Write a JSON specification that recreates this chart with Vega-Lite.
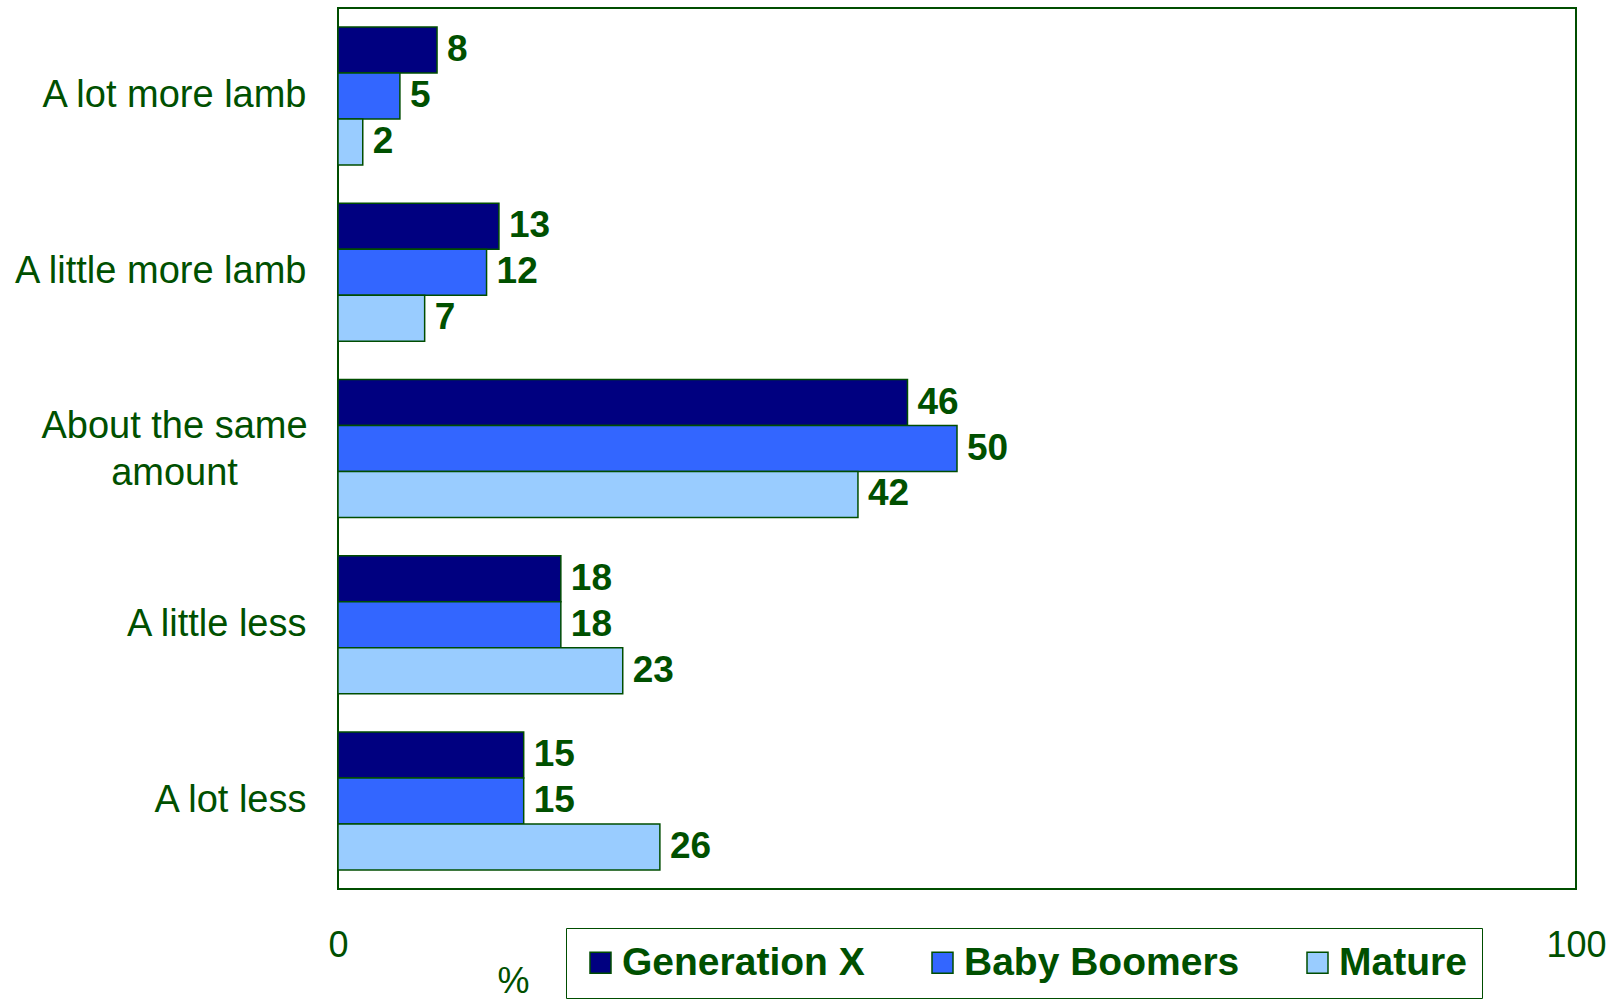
{
  "$schema": "https://vega.github.io/schema/vega-lite/v6.json",
  "width": 1238,
  "height": 881,
  "autosize": {"type": "none"},
  "padding": {"left": 338, "top": 8, "right": 38, "bottom": 113},
  "background": "white",
  "config": {
    "view": {"stroke": "#004d00", "strokeWidth": 2},
    "font": "Liberation Sans"
  },
  "data": {
    "values": [
      {"cat": "A lot more lamb", "series": "Generation X", "value": 8},
      {"cat": "A lot more lamb", "series": "Baby Boomers", "value": 5},
      {"cat": "A lot more lamb", "series": "Mature", "value": 2},
      {"cat": "A little more lamb", "series": "Generation X", "value": 13},
      {"cat": "A little more lamb", "series": "Baby Boomers", "value": 12},
      {"cat": "A little more lamb", "series": "Mature", "value": 7},
      {"cat": "About the same amount", "series": "Generation X", "value": 46},
      {"cat": "About the same amount", "series": "Baby Boomers", "value": 50},
      {"cat": "About the same amount", "series": "Mature", "value": 42},
      {"cat": "A little less", "series": "Generation X", "value": 18},
      {"cat": "A little less", "series": "Baby Boomers", "value": 18},
      {"cat": "A little less", "series": "Mature", "value": 23},
      {"cat": "A lot less", "series": "Generation X", "value": 15},
      {"cat": "A lot less", "series": "Baby Boomers", "value": 15},
      {"cat": "A lot less", "series": "Mature", "value": 26}
    ]
  },
  "encoding": {
    "y": {
      "field": "cat",
      "type": "nominal",
      "sort": ["A lot more lamb", "A little more lamb", "About the same amount", "A little less", "A lot less"],
      "scale": {"paddingInner": 0.217, "paddingOuter": 0.108},
      "axis": {
        "title": null,
        "domain": false,
        "ticks": false,
        "labelPadding": {"condition": {"test": "datum.value == 'About the same amount'", "value": 164}, "value": 32},
        "labelAlign": {"condition": {"test": "datum.value == 'About the same amount'", "value": "center"}, "value": "right"},
        "labelOffset": {"condition": {"test": "datum.value == 'About the same amount'", "value": -22}, "value": 0},
        "labelFontSize": 38,
        "labelColor": "#005000",
        "labelFont": "Liberation Sans",
        "labelLineHeight": 47,
        "labelLimit": 400,
        "labelExpr": "datum.value == 'About the same amount' ? ['About the same', 'amount'] : datum.label"
      }
    },
    "yOffset": {
      "field": "series",
      "type": "nominal",
      "sort": ["Generation X", "Baby Boomers", "Mature"],
      "scale": {"paddingInner": 0, "paddingOuter": 0}
    },
    "x": {
      "field": "value",
      "type": "quantitative",
      "scale": {"domain": [0, 100], "nice": false},
      "axis": {
        "values": [0, 100],
        "grid": false,
        "domain": false,
        "ticks": false,
        "labelPadding": 56,
        "labelBaseline": "middle",
        "labelFontSize": 36,
        "labelColor": "#005000",
        "labelFont": "Liberation Sans",
        "labelFlush": false,
        "labelOverlap": false,
        "title": "%",
        "titleFont": "Liberation Sans",
        "titleFontWeight": "normal",
        "titleFontSize": 36,
        "titleColor": "#005000",
        "titleX": 175,
        "titleY": 92,
        "titleAlign": "center",
        "titleBaseline": "middle"
      }
    }
  },
  "layer": [
    {
      "mark": {"type": "bar", "stroke": "#004d00", "strokeWidth": 1.5},
      "encoding": {
        "color": {
          "field": "series",
          "type": "nominal",
          "sort": ["Generation X", "Baby Boomers", "Mature"],
          "scale": {
            "domain": ["Generation X", "Baby Boomers", "Mature"],
            "range": ["#000080", "#3366ff", "#99ccff"]
          },
          "legend": {
            "title": null,
            "orient": "none",
            "direction": "horizontal",
            "legendX": 228,
            "legendY": 920,
            "padding": 15,
            "strokeColor": "#004d00",
            "fillColor": "white",
            "symbolType": "square",
            "symbolSize": 441,
            "symbolStrokeColor": "#004d00",
            "symbolStrokeWidth": 1.5,
            "symbolOpacity": 1,
            "labelFont": "Liberation Sans",
            "labelFontSize": 39,
            "labelFontWeight": "bold",
            "labelColor": "#005000",
            "labelOffset": 2,
            "labelLimit": 400,
            "columnPadding": 58
          }
        }
      }
    },
    {
      "mark": {
        "type": "text",
        "align": "left",
        "baseline": "middle",
        "dx": 10,
        "font": "Liberation Sans",
        "fontSize": 37,
        "fontWeight": "bold",
        "color": "#005000"
      },
      "encoding": {
        "text": {"field": "value", "type": "quantitative"}
      }
    }
  ]
}
